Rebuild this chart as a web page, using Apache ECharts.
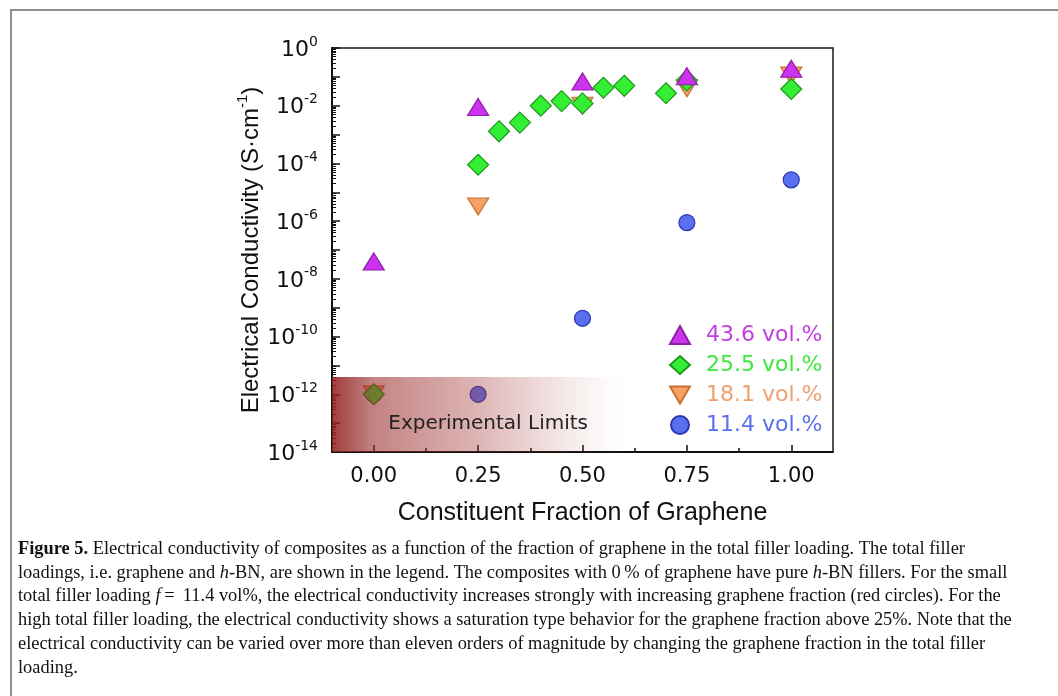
<!DOCTYPE html>
<html><head><meta charset="utf-8">
<script src="https://cdn.jsdelivr.net/npm/echarts@6/dist/echarts.min.js"></script>
<style>html,body{margin:0;padding:0;background:#fff}#c{width:1058px;height:696px}</style>
</head><body><div id="c"></div>
<script>
// ---- data ----
const seriesNames = ['43.6 vol.%', '25.5 vol.%', '18.1 vol.%', '11.4 vol.%'];
const fractions43 = [0, 0.25, 0.5, 0.75, 1.0];
const values43    = [4e-8, 9e-3, 0.069, 0.105, 0.19];
const fractions25 = [0, 0.25, 0.30, 0.35, 0.40, 0.45, 0.50, 0.55, 0.60, 0.70, 0.75, 1.0];
const values25    = [1e-12, 9e-5, 1.3e-3, 2.6e-3, 1.0e-2, 1.45e-2, 1.2e-2, 4.2e-2, 4.9e-2, 2.7e-2, 0.075, 0.038];
const fractions18 = [0, 0.25, 0.5, 0.75, 1.0];
const values18    = [1e-12, 3.2e-6, 1.0e-2, 0.04, 0.11];
const fractions11 = [0, 0.25, 0.5, 0.75, 1.0];
const values11    = [1e-12, 1e-12, 4.3e-10, 8.9e-7, 2.7e-5];
const limitRange  = { x: [-0.1, 0.6], y: [1e-14, 4e-12] };
const xMajorTicks = [0, 0.25, 0.5, 0.75, 1.0];
const xMinorTicks = [0.125, 0.375, 0.625, 0.875];
const yDecades    = [1e-14, 1e-13, 1e-12, 1e-11, 1e-10, 1e-9, 1e-8, 1e-7, 1e-6, 1e-5, 1e-4, 1e-3, 1e-2, 1e-1, 1];
const yLabelTicks = [1e-14, 1e-12, 1e-10, 1e-8, 1e-6, 1e-4, 1e-2, 1];
const yMinorMultipliers = [2, 3, 4, 5, 6, 7, 8, 9];
const captionLines = [
  '{b|Figure 5.} Electrical conductivity of composites as a function of the fraction of graphene in the total filler loading. The total filler',
  'loadings, i.e. graphene and {i|h}-BN, are shown in the legend. The composites with 0\u2009% of graphene have pure {i|h}-BN fillers. For the small',
  'total filler loading {i|f}\u2009=\u2009 11.4 vol%, the electrical conductivity increases strongly with increasing graphene fraction (red circles). For the',
  'high total filler loading, the electrical conductivity shows a saturation type behavior for the graphene fraction above 25%. Note that the',
  'electrical conductivity can be varied over more than eleven orders of magnitude by changing the graphene fraction in the total filler',
  'loading.'
];

const yMinorTicks = [];
yDecades.slice(0, -1).forEach(d => yMinorMultipliers.forEach(m => yMinorTicks.push(m * d)));

const styles = [
  { fill: '#cc33ee', border: '#8e1fa8', text: '#c23ee0', symbol: 'triangle', size: [21, 17], rotate: 0, icon: 'triangle' },
  { fill: '#33ee33', border: '#1f9a1f', text: '#3de63d', symbol: 'diamond', size: [21, 21], rotate: 0, icon: 'diamond' },
  { fill: '#f5a065', border: '#c9702f', text: '#f0a06e', symbol: 'triangle', size: [21, 17], rotate: 180, icon: 'path://M0,0L20,0L10,17Z' },
  { fill: '#5a6ff0', border: '#2a35b0', text: '#5a70f0', symbol: 'circle', size: 16, rotate: 0, icon: 'circle' }
];
const xs = [fractions43, fractions25, fractions18, fractions11];
const ys = [values43, values25, values18, values11];

const SANS = 'Liberation Sans';
const TICKF = 'DejaVu Sans';
const SERIF = 'Liberation Serif';

const scatter = seriesNames.map((name, i) => ({
  name, type: 'scatter',
  xAxisIndex: 0, yAxisIndex: 0,
  symbol: styles[i].symbol, symbolSize: styles[i].size, symbolRotate: styles[i].rotate,
  itemStyle: { color: styles[i].fill, borderColor: styles[i].border, borderWidth: 1.2, opacity: 1 },
  z: 6 - i,
  data: xs[i].map((x, k) => [x, ys[i][k]])
}));
scatter.reverse();

const chart = echarts.init(document.getElementById('c'), null, { renderer: 'canvas' });
chart.setOption({
  backgroundColor: '#fff',
  animation: false,
  grid: { left: 332, right: 225, top: 48, bottom: 244, show: true, borderColor: '#1a1a1a', borderWidth: 1.5, backgroundColor: 'transparent' },
  xAxis: [
    {
      type: 'value', min: -0.1, max: 1.1, position: 'bottom',
      axisLine: { show: true, onZero: false, lineStyle: { color: '#111', width: 2 } },
      axisTick: { show: true, inside: true, length: 7, customValues: xMajorTicks, lineStyle: { color: '#111', width: 1.5 } },
      axisLabel: { customValues: xMajorTicks, formatter: v => v.toFixed(2), fontFamily: TICKF, fontSize: 21, color: '#111', margin: 14 },
      splitLine: { show: false },
      name: 'Constituent Fraction of Graphene', nameLocation: 'middle', nameGap: 49,
      nameTextStyle: { fontFamily: SANS, fontSize: 25, color: '#111' }
    },
    {
      type: 'value', min: -0.1, max: 1.1, position: 'bottom',
      axisLine: { show: false, onZero: false },
      axisTick: { show: true, inside: true, length: 4, customValues: xMinorTicks, lineStyle: { color: '#111', width: 1.5 } },
      axisLabel: { show: false }, splitLine: { show: false }
    }
  ],
  yAxis: [
    {
      type: 'log', logBase: 10, min: 1e-14, max: 1, position: 'left',
      axisLine: { show: true, onZero: false, lineStyle: { color: '#111', width: 2 } },
      axisTick: { show: true, inside: true, length: 8, customValues: yDecades, lineStyle: { color: '#111', width: 1.5 } },
      axisLabel: {
        customValues: yLabelTicks, margin: 14, color: '#111',
        formatter: v => '{b|10}{s|' + Math.round(Math.log10(v)) + '}',
        rich: {
          b: { fontFamily: TICKF, fontSize: 22, color: '#111', lineHeight: 26, verticalAlign: 'bottom' },
          s: { fontFamily: TICKF, fontSize: 14, color: '#111', lineHeight: 14, verticalAlign: 'top' }
        }
      },
      splitLine: { show: false },
      name: '{a|Electrical Conductivity (S\u00b7cm}{s|-1}{a|)}', nameLocation: 'middle', nameGap: 62, nameRotate: 90,
      nameTextStyle: {
        rich: {
          a: { fontFamily: SANS, fontSize: 24, color: '#111', lineHeight: 28, verticalAlign: 'bottom' },
          s: { fontFamily: SANS, fontSize: 15, color: '#111', lineHeight: 15, verticalAlign: 'top' }
        }
      }
    },
    {
      type: 'log', logBase: 10, min: 1e-14, max: 1, position: 'left',
      axisLine: { show: false, onZero: false },
      axisTick: { show: true, inside: true, length: 4, customValues: yMinorTicks, lineStyle: { color: '#111', width: 1 } },
      axisLabel: { show: false }, splitLine: { show: false }
    }
  ],
  legend: {
    orient: 'vertical', left: 664, top: 319,
    itemWidth: 20, itemHeight: 18, itemGap: 8,
    selectedMode: false,
    data: seriesNames.map((n, i) => ({ name: n, icon: styles[i].icon, textStyle: { color: styles[i].text } })),
    textStyle: { fontFamily: TICKF, fontSize: 22, lineHeight: 22, padding: [0, 0, 0, 11] }
  },
  series: scatter.concat([{
    name: 'limits', type: 'scatter', data: [], z: 10,
    markArea: {
      silent: true, z: 10,
      itemStyle: {
        color: new echarts.graphic.LinearGradient(0, 0, 1, 0, [
          { offset: 0, color: 'rgba(145,35,32,0.88)' },
          { offset: 0.14, color: 'rgba(150,40,38,0.58)' },
          { offset: 0.5, color: 'rgba(160,50,48,0.36)' },
          { offset: 0.8, color: 'rgba(175,70,70,0.12)' },
          { offset: 1, color: 'rgba(200,120,120,0)' }
        ])
      },
      label: { show: true, position: 'inside', formatter: 'Experimental Limits', fontFamily: TICKF, fontSize: 20, color: '#222', offset: [10, 9] },
      data: [[{ xAxis: limitRange.x[0], yAxis: limitRange.y[0] }, { xAxis: limitRange.x[1], yAxis: limitRange.y[1] }]]
    }
  }]),
  graphic: [
    { type: 'rect', silent: true, shape: { x: 11, y: 10, width: 1200, height: 900 }, style: { fill: 'none', stroke: '#8f8f8f', lineWidth: 2 } }
  ].concat(captionLines.map((t, i) => ({
    type: 'text', silent: true, x: 18, y: 549 + i * 23.8,
    style: {
      text: t, fill: '#111', fontFamily: SERIF, fontSize: 18.4, verticalAlign: 'middle',
      rich: {
        b: { fontFamily: SERIF, fontSize: 18.4, fontWeight: 'bold', fill: '#111' },
        i: { fontFamily: SERIF, fontSize: 18.4, fontStyle: 'italic', fill: '#111' }
      }
    }
  })))
});
</script></body></html>
